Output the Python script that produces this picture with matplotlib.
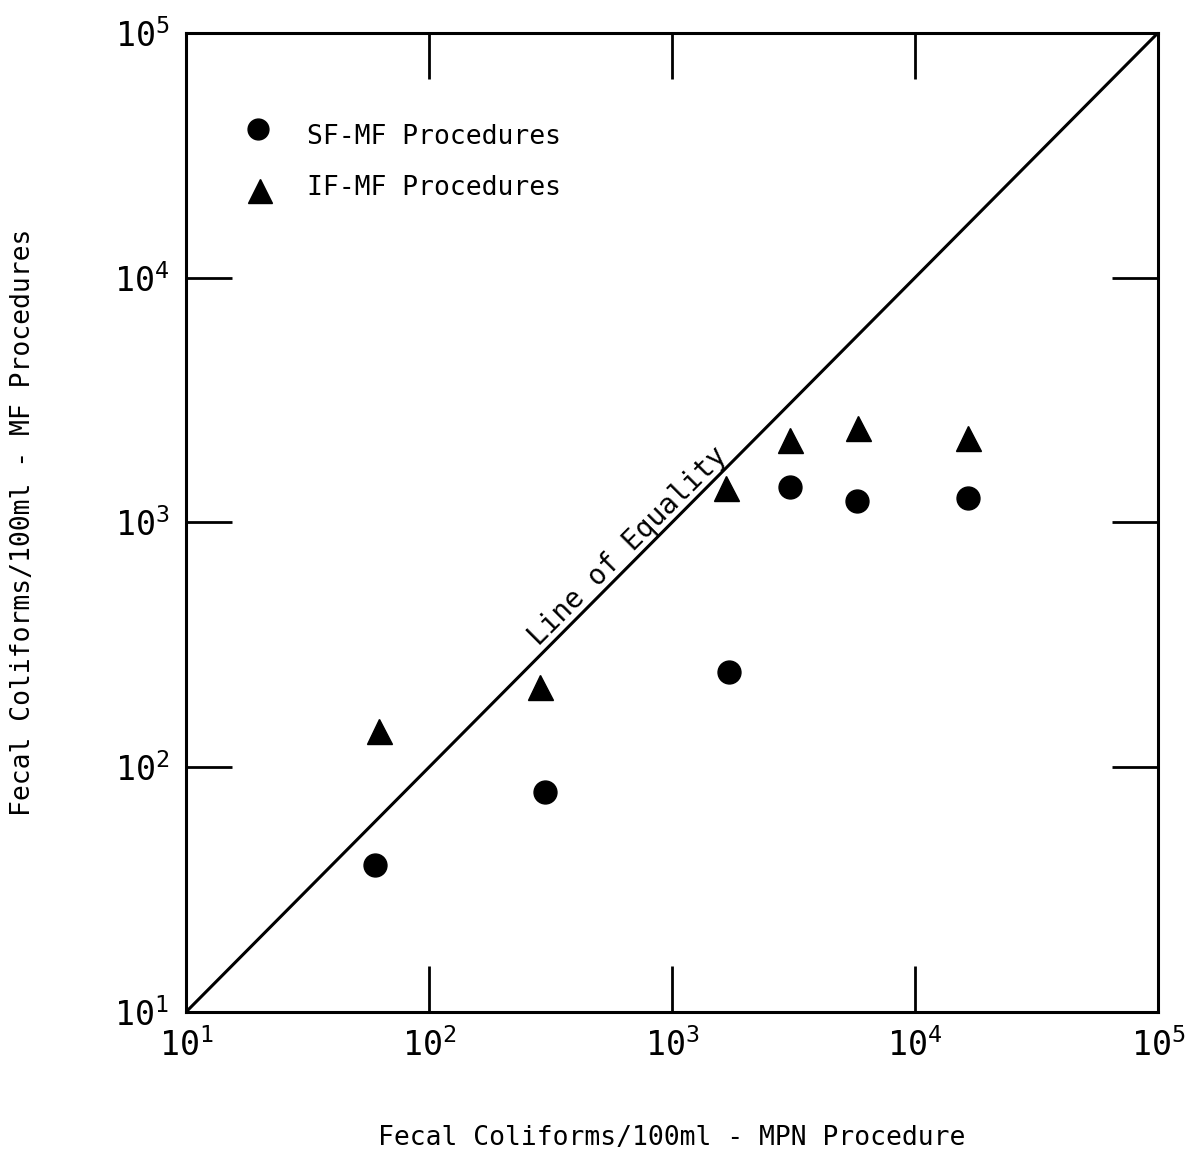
import numpy as np
import matplotlib.pyplot as plt
from matplotlib.ticker import FixedLocator, NullLocator

# Fecal coliforms: MPN procedure vs. MF procedures
mpn_sf = [60, 300, 1720, 3050, 5800, 16500]
mf_sf = [40, 79, 245, 1400, 1220, 1260]

mpn_if = [62, 285, 1670, 3050, 5850, 16500]
mf_if = [140, 212, 1380, 2170, 2430, 2210]

decades = [1e1, 1e2, 1e3, 1e4, 1e5]
tick_labels = [r"$\mathregular{10^{%d}}$" % k for k in range(1, 6)]

mono = "DejaVu Sans Mono"
plt.rcParams["font.family"] = mono

fig = plt.figure(figsize=(11.88, 11.56), dpi=100)
ax = fig.add_axes([0.1566, 0.1246, 0.8181, 0.8469])

ax.set_xscale("log")
ax.set_yscale("log")
ax.set_xlim(1e1, 1e5)
ax.set_ylim(1e1, 1e5)

# line of equality
ax.plot(decades, decades, color="black", lw=2.2)
ax.text(660, 800, "Line of Equality", rotation=45, ha="center", va="center",
        fontsize=20, rotation_mode="anchor")

ax.plot(mpn_sf, mf_sf, "o", color="black", ms=16.5, ls="none")
ax.plot(mpn_if, mf_if, "^", color="black", ms=18, ls="none")

# legend drawn by hand like the original
ax.plot([19.8], [40500], "o", color="black", ms=15)
ax.plot([20.1], [22600], "^", color="black", ms=17)
ax.text(31.5, 37600, "SF-MF Procedures", fontsize=19, va="center")
ax.text(31.5, 23300, "IF-MF Procedures", fontsize=19, va="center")

for s in ax.spines.values():
    s.set_linewidth(2.2)

ax.xaxis.set_major_locator(FixedLocator(decades))
ax.yaxis.set_major_locator(FixedLocator(decades))
ax.xaxis.set_minor_locator(NullLocator())
ax.yaxis.set_minor_locator(NullLocator())
ax.set_xticklabels(tick_labels)
ax.set_yticklabels(tick_labels)
ax.tick_params(which="major", direction="in", length=33, width=2,
               top=True, right=True, labelsize=24)
ax.tick_params(axis="x", pad=12)
ax.tick_params(axis="y", pad=12)

ax.set_xlabel("Fecal Coliforms/100ml - MPN Procedure", fontsize=19, labelpad=44)
ax.set_ylabel("Fecal Coliforms/100ml - MF Procedures", fontsize=19, labelpad=56)

fig.savefig("out.png", dpi=100)
